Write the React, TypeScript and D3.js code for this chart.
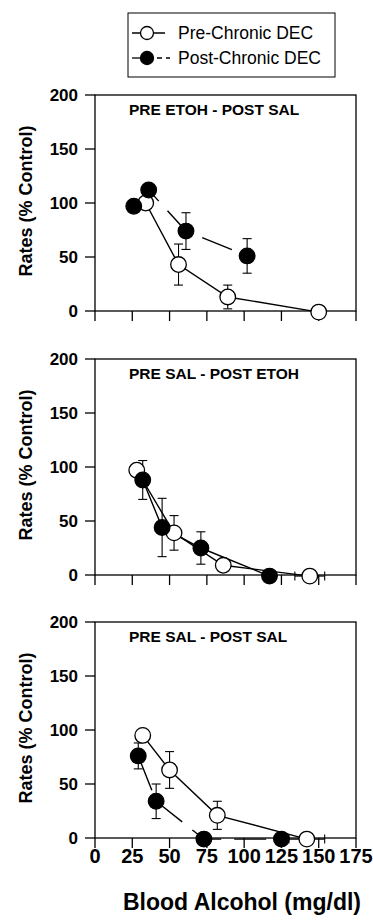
import * as d3 from "d3";

const xTicks = [0, 25, 50, 75, 100, 125, 150, 175];
const yTicks = [0, 50, 100, 150, 200];
const panelTitles = ["PRE ETOH - POST SAL", "PRE SAL - POST ETOH", "PRE SAL - POST SAL"];
const seriesNames = ["Pre-Chronic DEC", "Post-Chronic DEC"];

// PRE ETOH - POST SAL
const p1PreBac = [34, 56, 89, 150];
const p1PreRate = [100, 43, 13, -1];
const p1PreSem = [0, 19, 11, 0];
const p1PreBacSem = [0, 0, 0, 0];
const p1PostBac = [26, 36, 61, 102];
const p1PostRate = [97, 112, 74, 51];
const p1PostSem = [0, 0, 17, 16];

// PRE SAL - POST ETOH
const p2PreBac = [28, 53, 86, 144];
const p2PreRate = [97, 39, 9, -1];
const p2PreSem = [0, 16, 0, 0];
const p2PreBacSem = [0, 0, 0, 10];
const p2PostBac = [32, 45, 71, 117];
const p2PostRate = [88, 44, 25, -1];
const p2PostSem = [18, 27, 15, 0];

// PRE SAL - POST SAL
const p3PreBac = [32, 50, 82, 142];
const p3PreRate = [95, 63, 21, -1];
const p3PreSem = [0, 17, 13, 0];
const p3PreBacSem = [0, 0, 0, 12];
const p3PostBac = [29, 41, 73, 125];
const p3PostRate = [76, 34, -1, -1];
const p3PostSem = [12, 16, 0, 0];

type Pt = { x: number; y: number; e: number; ex: number };
const zip = (xs: number[], ys: number[], es: number[], exs?: number[]): Pt[] =>
  xs.map((x, i) => ({ x, y: ys[i], e: es[i], ex: exs ? exs[i] : 0 }));

const panels = [
  { title: panelTitles[0], pre: zip(p1PreBac, p1PreRate, p1PreSem, p1PreBacSem), post: zip(p1PostBac, p1PostRate, p1PostSem), dashed: true },
  { title: panelTitles[1], pre: zip(p2PreBac, p2PreRate, p2PreSem, p2PreBacSem), post: zip(p2PostBac, p2PostRate, p2PostSem), dashed: false },
  { title: panelTitles[2], pre: zip(p3PreBac, p3PreRate, p3PreSem, p3PreBacSem), post: zip(p3PostBac, p3PostRate, p3PostSem), dashed: true },
];

const W = 373;
const H = 920;
const left = 95;
const right = 356;
const tops = [95, 359, 622];
const ph = 216;
const r = 7.8;
const cap = 4.5;
const font = "'Liberation Sans', Arial, Helvetica, sans-serif";

const x = d3.scaleLinear().domain([0, 175]).range([left, right]);

function Panel({ p, top, last }: { p: (typeof panels)[number]; top: number; last: boolean }) {
  const y = d3.scaleLinear().domain([0, 200]).range([top + ph, top]);
  const line = d3.line<Pt>().x((d) => x(d.x)).y((d) => y(d.y));
  const bottom = top + ph;
  const all = [...p.pre, ...p.post];
  return (
    <g>
      <rect x={left} y={top} width={right - left} height={ph} fill="none" stroke="#000" strokeWidth={1.3} />
      {yTicks.map((t) => (
        <g key={"y" + t}>
          <line x1={left - 10} x2={left} y1={y(t)} y2={y(t)} stroke="#000" strokeWidth={1.3} />
          <text x={left - 17} y={y(t)} dy="0.36em" textAnchor="end" fontSize={17} fontWeight="bold" fontFamily={font}>
            {t}
          </text>
        </g>
      ))}
      {xTicks.map((t) => (
        <g key={"x" + t}>
          <line x1={x(t)} x2={x(t)} y1={bottom} y2={bottom + 10} stroke="#000" strokeWidth={1.3} />
          {last && (
            <text x={x(t)} y={bottom + 25} textAnchor="middle" fontSize={20} fontWeight="bold" fontFamily={font}>
              {t}
            </text>
          )}
        </g>
      ))}
      <text x={129} y={top + 20} fontSize={15.5} fontWeight="bold" fontFamily={font}>
        {p.title}
      </text>
      <text
        transform={`translate(32,${top + 106}) rotate(-90)`}
        textAnchor="middle"
        fontSize={18}
        fontWeight="bold"
        fontFamily={font}
      >
        Rates (% Control)
      </text>
      <path d={line(p.pre) || ""} fill="none" stroke="#000" strokeWidth={1.4} />
      <path
        d={line(p.post) || ""}
        fill="none"
        stroke="#000"
        strokeWidth={1.4}
        strokeDasharray={p.dashed ? "32 13" : undefined}
        strokeDashoffset={p.dashed ? -5 : undefined}
      />
      {all
        .filter((d) => d.e > 0)
        .map((d, i) => (
          <g key={"e" + i} stroke="#000" strokeWidth={1.1}>
            <line x1={x(d.x)} x2={x(d.x)} y1={y(d.y - d.e)} y2={y(d.y + d.e)} />
            <line x1={x(d.x) - cap} x2={x(d.x) + cap} y1={y(d.y - d.e)} y2={y(d.y - d.e)} />
            <line x1={x(d.x) - cap} x2={x(d.x) + cap} y1={y(d.y + d.e)} y2={y(d.y + d.e)} />
          </g>
        ))}
      {all
        .filter((d) => d.ex > 0)
        .map((d, i) => (
          <g key={"h" + i} stroke="#000" strokeWidth={1.1}>
            <line x1={x(d.x - d.ex)} x2={x(d.x + d.ex)} y1={y(d.y)} y2={y(d.y)} />
            <line x1={x(d.x - d.ex)} x2={x(d.x - d.ex)} y1={y(d.y) - cap} y2={y(d.y) + cap} />
            <line x1={x(d.x + d.ex)} x2={x(d.x + d.ex)} y1={y(d.y) - cap} y2={y(d.y) + cap} />
          </g>
        ))}
      {p.pre.map((d, i) => (
        <circle key={"o" + i} cx={x(d.x)} cy={y(d.y)} r={r} fill="#fff" stroke="#000" strokeWidth={1.3} />
      ))}
      {p.post.map((d, i) => (
        <circle key={"f" + i} cx={x(d.x)} cy={y(d.y)} r={r} fill="#000" stroke="#000" strokeWidth={1.3} />
      ))}
    </g>
  );
}

function Legend() {
  const lx = 128;
  const rows = [33, 58];
  return (
    <g>
      <rect x={lx} y={13} width={335 - lx} height={64} fill="#fff" stroke="#000" strokeWidth={1} />
      <line x1={lx + 4} x2={lx + 37} y1={rows[0]} y2={rows[0]} stroke="#000" strokeWidth={1.3} />
      <circle cx={lx + 19} cy={rows[0]} r={6.5} fill="#fff" stroke="#000" strokeWidth={1.3} />
      <line x1={lx + 4} x2={lx + 14} y1={rows[1]} y2={rows[1]} stroke="#000" strokeWidth={1.3} />
      <line x1={lx + 29} x2={lx + 42} y1={rows[1]} y2={rows[1]} stroke="#000" strokeWidth={1.3} strokeDasharray="5 4" />
      <circle cx={lx + 19} cy={rows[1]} r={6.5} fill="#000" stroke="#000" strokeWidth={1.3} />
      {seriesNames.map((s, i) => (
        <text key={s} x={178} y={rows[i]} dy="0.36em" fontSize={17.5} fontFamily={font}>
          {s}
        </text>
      ))}
    </g>
  );
}

export default function App() {
  return (
    <svg
      width={W}
      height={H}
      viewBox={`0 0 ${W} ${H}`}
      style={{ position: "absolute", left: 0, top: 0, background: "#fff" }}
    >
      <Legend />
      {panels.map((p, i) => (
        <Panel key={p.title} p={p} top={tops[i]} last={i === panels.length - 1} />
      ))}
      <text x={242} y={910} textAnchor="middle" fontSize={23} fontWeight="bold" fontFamily={font}>
        Blood Alcohol (mg/dl)
      </text>
    </svg>
  );
}
